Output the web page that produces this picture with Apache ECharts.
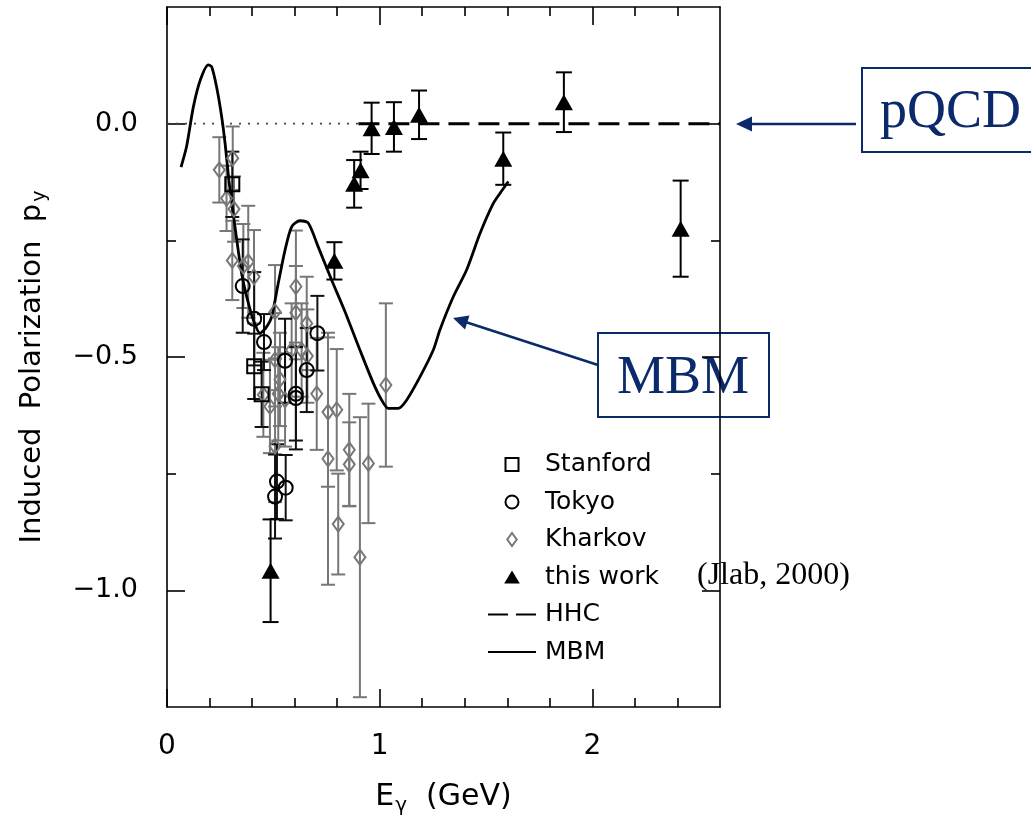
<!DOCTYPE html>
<html><head><meta charset="utf-8">
<script src="https://cdn.jsdelivr.net/npm/echarts@6/dist/echarts.min.js"></script>
<style>html,body{margin:0;padding:0;background:#fff}#c{width:1031px;height:822px}</style>
</head><body><div id="c"></div>
<script>
// ---- data ----
const thisWorkE   = [0.487, 0.787, 0.880, 0.910, 0.962, 1.067, 1.185, 1.581, 1.866, 2.415];
const thisWorkP   = [-0.958, -0.294, -0.129, -0.100, -0.010, -0.007, 0.019, -0.075, 0.046, -0.225];
const thisWorkErr = [0.110, 0.040, 0.051, 0.040, 0.055, 0.053, 0.052, 0.056, 0.064, 0.103];

const stanfordE   = [0.307, 0.410, 0.445];
const stanfordP   = [-0.130, -0.520, -0.580];
const stanfordErr = [0.070, 0.070, 0.070];

const tokyoE   = [0.356, 0.410, 0.456, 0.555, 0.657, 0.707, 0.606, 0.606, 0.517, 0.558, 0.508];
const tokyoP   = [-0.348, -0.418, -0.468, -0.508, -0.528, -0.449, -0.579, -0.588, -0.767, -0.780, -0.799];
const tokyoErr = [0.100, 0.100, 0.060, 0.090, 0.090, 0.080, 0.100, 0.110, 0.080, 0.070, 0.090];

const kharkovE   = [0.246, 0.309, 0.280, 0.315, 0.307, 0.359, 0.382, 0.409, 0.508, 0.606, 0.606, 0.657, 0.508, 0.586, 0.633, 0.660,
                    0.531, 0.453, 0.523, 0.555, 0.484, 0.704, 0.757, 0.798, 0.508, 0.757, 0.857, 0.857, 0.947, 0.805, 0.907, 1.029];
const kharkovP   = [-0.099, -0.074, -0.160, -0.183, -0.293, -0.305, -0.296, -0.328, -0.403, -0.349, -0.405, -0.428, -0.506, -0.485, -0.485, -0.498,
                    -0.548, -0.581, -0.579, -0.592, -0.606, -0.579, -0.618, -0.613, -0.691, -0.718, -0.699, -0.730, -0.728, -0.858, -0.929, -0.560];
const kharkovErr = [0.070, 0.068, 0.070, 0.070, 0.085, 0.090, 0.120, 0.100, 0.100, 0.120, 0.100, 0.100, 0.100, 0.100, 0.100, 0.100,
                    0.100, 0.090, 0.100, 0.100, 0.100, 0.120, 0.160, 0.130, 0.120, 0.270, 0.120, 0.090, 0.128, 0.108, 0.300, 0.175];

const mbmE = [0.066, 0.092, 0.124, 0.157, 0.194, 0.210, 0.233, 0.257, 0.273, 0.291, 0.307, 0.328, 0.351, 0.375, 0.406, 0.437, 0.464,
              0.492, 0.523, 0.555, 0.586, 0.625, 0.664, 0.711, 0.774, 0.837, 0.907, 0.970, 1.009, 1.040, 1.087, 1.127, 1.190,
              1.252, 1.283, 1.346, 1.409, 1.472, 1.534, 1.566, 1.605];
const mbmP = [-0.093, -0.049, 0.036, 0.094, 0.126, 0.122, 0.079, 0.015, -0.042, -0.121, -0.178, -0.249, -0.321, -0.371, -0.421, -0.449, -0.438,
              -0.414, -0.342, -0.271, -0.221, -0.208, -0.213, -0.264, -0.335, -0.403, -0.485, -0.556, -0.592, -0.610, -0.610, -0.592, -0.542,
              -0.485, -0.442, -0.371, -0.313, -0.235, -0.171, -0.149, -0.124];

const hhcE = [0.90, 2.60];
const hhcP = [0, 0];
const zeroE = [0, 0.90];
const zeroP = [0, 0];

const xMajorTicks = [0, 1, 2];
const xMinorTicks = [0.2, 0.4, 0.6, 0.8, 1.2, 1.4, 1.6, 1.8, 2.2, 2.4];
const yMajorTicks = [0, -0.5, -1.0];
const yMinorTicks = [-0.25, -0.75];
const legendNames = ['Stanford', 'Tokyo', 'Kharkov', 'this work', 'HHC', 'MBM'];

// ---- chart ----
const FONT = 'DejaVu Sans';
const NAVY = '#0b2a6b';
const GRAY = '#777777';
const chart = echarts.init(document.getElementById('c'), null, {renderer: 'canvas'});

const zip = (a, b) => a.map((v, i) => [v, b[i]]);
const errData = (E, P, Er) => E.map((v, i) => [v, P[i] - Er[i], P[i] + Er[i]]);

function errSeries(id, data, color, cap, width) {
  return {
    type: 'custom', name: id, data: data, z: 2, silent: true,
    encode: {x: 0, y: [1, 2]},
    renderItem: function (params, api) {
      const x = api.value(0), lo = api.value(1), hi = api.value(2);
      const a = api.coord([x, lo]), b = api.coord([x, hi]);
      const st = {stroke: color, lineWidth: width};
      return {type: 'group', children: [
        {type: 'line', shape: {x1: a[0], y1: a[1], x2: b[0], y2: b[1]}, style: st},
        {type: 'line', shape: {x1: a[0] - cap / 2, y1: a[1], x2: a[0] + cap / 2, y2: a[1]}, style: st},
        {type: 'line', shape: {x1: b[0] - cap / 2, y1: b[1], x2: b[0] + cap / 2, y2: b[1]}, style: st}
      ]};
    }
  };
}

const lineSt = {color: '#000', width: 1.6};
function xAxisDef(pos, major, withLabel) {
  return {
    type: 'value', min: 0, max: 2.6, position: pos,
    axisLine: {show: major, onZero: false, lineStyle: lineSt},
    axisTick: {show: true, inside: true, length: major ? 18 : 9, customValues: major ? xMajorTicks : xMinorTicks, lineStyle: lineSt},
    axisLabel: {show: withLabel, customValues: xMajorTicks, margin: 26, fontFamily: FONT, fontSize: 28, color: '#000',
                formatter: v => String(v)},
    splitLine: {show: false}
  };
}
function yAxisDef(pos, major, withLabel) {
  return {
    type: 'value', min: -1.25, max: 0.25, position: pos,
    axisLine: {show: major, onZero: false, lineStyle: lineSt},
    axisTick: {show: true, inside: true, length: major ? 18 : 9, customValues: major ? yMajorTicks : yMinorTicks, lineStyle: lineSt},
    axisLabel: {show: withLabel, customValues: yMajorTicks, margin: 29, fontFamily: FONT, fontSize: 27, color: '#000',
                formatter: v => (v === 0 ? '0.0' : v.toFixed(1).replace('-', '\u2212'))},
    splitLine: {show: false}
  };
}

const xAxes = [xAxisDef('bottom', true, true), xAxisDef('bottom', false, false), xAxisDef('top', true, false), xAxisDef('top', false, false)];
xAxes[0].name = 'E{s|\u03b3}  (GeV)';
xAxes[0].nameLocation = 'middle';
xAxes[0].nameGap = 71;
xAxes[0].nameTextStyle = {fontFamily: FONT, fontSize: 30, color: '#000',
  rich: {s: {fontFamily: FONT, fontSize: 20, color: '#000', padding: [18, 0, 0, 1]}}};
const yAxes = [yAxisDef('left', true, true), yAxisDef('left', false, false), yAxisDef('right', true, false), yAxisDef('right', false, false)];
yAxes[0].name = 'Induced  Polarization  p{s|y}';
yAxes[0].nameLocation = 'middle';
yAxes[0].nameGap = 117;
yAxes[0].nameTextStyle = {fontFamily: FONT, fontSize: 29, color: '#000', padding: [0, 20, 0, 0],
  rich: {s: {fontFamily: FONT, fontSize: 19, color: '#000', padding: [16, 0, 0, 2]}}};

const hollow = c => ({color: 'rgba(0,0,0,0)', borderColor: c, borderWidth: 2, opacity: 1});

const option = {
  animation: false,
  backgroundColor: '#fff',
  grid: {left: 167, top: 7, right: 311, bottom: 115, outerBoundsMode: 'none'},
  xAxis: xAxes,
  yAxis: yAxes,
  legend: {
    orient: 'vertical', left: 482, top: 447, itemWidth: 48, itemHeight: 13, itemGap: 12.5,
    selectedMode: false,
    textStyle: {fontFamily: FONT, fontSize: 25, color: '#000', lineHeight: 25, padding: [0, 0, 0, 4]},
    data: [
      {name: legendNames[0], icon: 'path://M0,0L10,0L10,10L0,10Z'},
      {name: legendNames[1], icon: 'circle'},
      {name: legendNames[2], icon: 'path://M4,0L8,5.5L4,11L0,5.5Z'},
      {name: legendNames[3], icon: 'path://M6,0L12,10L0,10Z'},
      {name: legendNames[4], itemStyle: {opacity: 0}, lineStyle: {type: [20, 8], width: 2}},
      {name: legendNames[5], itemStyle: {opacity: 0}, lineStyle: {width: 2}}
    ]
  },
  series: [
    {type: 'line', name: 'zero', data: zip(zeroE, zeroP), symbol: 'none', silent: true, z: 1,
     lineStyle: {color: '#444', width: 1.6, type: [2, 7]}},
    {type: 'line', name: legendNames[4], data: zip(hhcE, hhcP), symbol: 'none', silent: true, z: 1,
     itemStyle: {color: '#000'}, lineStyle: {color: '#000', width: 3, type: [21, 9]}},
    {type: 'line', name: legendNames[5], data: zip(mbmE, mbmP), symbol: 'none', silent: true, z: 3, smooth: 0.25,
     itemStyle: {color: '#000'}, lineStyle: {color: '#000', width: 2.8}},
    errSeries('errKharkov', errData(kharkovE, kharkovP, kharkovErr), GRAY, 14, 2),
    errSeries('errStanford', errData(stanfordE, stanfordP, stanfordErr), '#111', 14, 2),
    errSeries('errTokyo', errData(tokyoE, tokyoP, tokyoErr), '#111', 14, 2),
    errSeries('errThisWork', errData(thisWorkE, thisWorkP, thisWorkErr), '#000', 16, 2),
    {type: 'scatter', name: legendNames[2], data: zip(kharkovE, kharkovP), symbol: 'diamond', symbolSize: [11, 15], z: 4,
     itemStyle: hollow(GRAY)},
    {type: 'scatter', name: legendNames[0], data: zip(stanfordE, stanfordP), symbol: 'rect', symbolSize: 14, z: 5,
     itemStyle: hollow('#000')},
    {type: 'scatter', name: legendNames[1], data: zip(tokyoE, tokyoP), symbol: 'circle', symbolSize: 14, z: 5,
     itemStyle: hollow('#000')},
    {type: 'scatter', name: legendNames[3], data: zip(thisWorkE, thisWorkP), symbol: 'triangle', symbolSize: [18, 16], z: 6,
     itemStyle: {color: '#000', opacity: 1}}
  ],
  graphic: [
    {type: 'text', left: 697, top: 560, style: {text: '(Jlab, 2000)', fontFamily: 'Liberation Serif', fontSize: 32, fill: '#000'}},
    // pQCD annotation
    {type: 'rect', shape: {x: 862, y: 68, width: 190, height: 84}, style: {fill: '#fff', stroke: NAVY, lineWidth: 2}},
    {type: 'text', x: 880, y: 86, style: {text: 'pQCD', fontFamily: 'Liberation Serif', fontSize: 54, fill: NAVY}},
    {type: 'line', shape: {x1: 856, y1: 124, x2: 748, y2: 124}, style: {stroke: NAVY, lineWidth: 2.5}},
    {type: 'polygon', shape: {points: [[736, 124], [752, 116.5], [752, 131.5]]}, style: {fill: NAVY}},
    // MBM annotation
    {type: 'rect', shape: {x: 598, y: 333, width: 171, height: 84}, style: {fill: '#fff', stroke: NAVY, lineWidth: 2}},
    {type: 'text', x: 617, y: 352, style: {text: 'MBM', fontFamily: 'Liberation Serif', fontSize: 54, fill: NAVY}},
    {type: 'line', shape: {x1: 598, y1: 365, x2: 464, y2: 321.5}, style: {stroke: NAVY, lineWidth: 2.5}},
    {type: 'polygon', shape: {points: [[453, 318], [469.5, 315.5], [465, 329.5]]}, style: {fill: NAVY}}
  ]
};
chart.setOption(option);
</script>
</body></html>
